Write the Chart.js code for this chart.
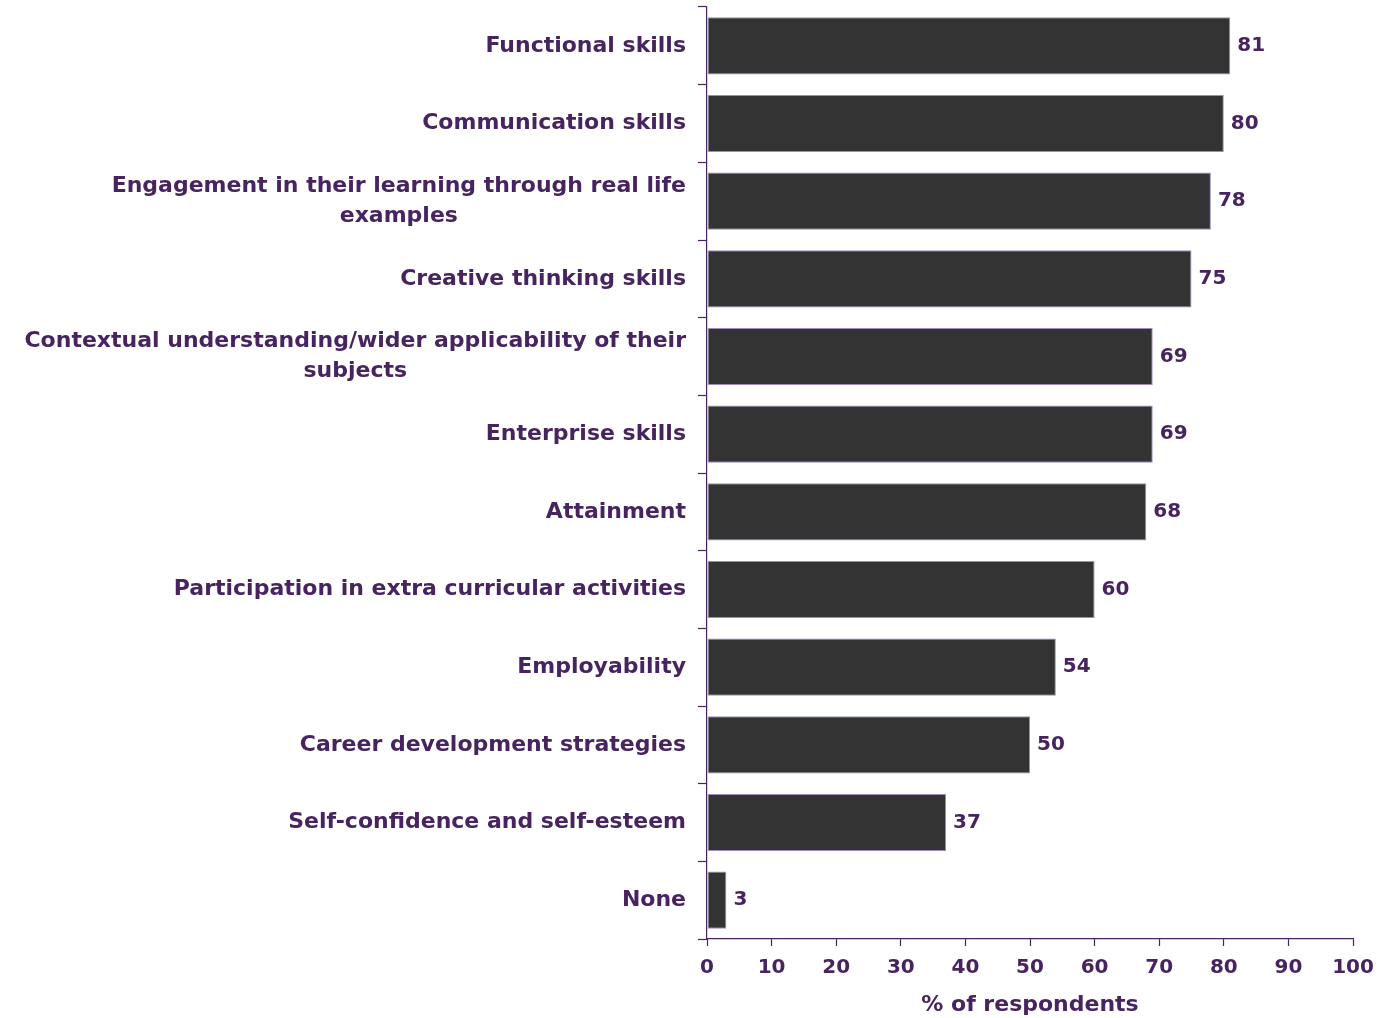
<!DOCTYPE html>
<html lang="en">
<head>
  <meta charset="UTF-8" />
  <title>Impact on learners</title>
  <script src="https://cdn.jsdelivr.net/npm/chart.js"></script>
  <style>
    body { margin: 0; background: #fff; }
    #wrap { width: 1378px; height: 1018px; }
  </style>
</head>
<body>
  <div id="wrap"><canvas id="impactChart" width="1378" height="1018"></canvas></div>
  <script>
    const categories = [
      ['Functional skills'],
      ['Communication skills'],
      ['Engagement in their learning through real life', 'examples'],
      ['Creative thinking skills'],
      ['Contextual understanding/wider applicability of their', 'subjects'],
      ['Enterprise skills'],
      ['Attainment'],
      ['Participation in extra curricular activities'],
      ['Employability'],
      ['Career development strategies'],
      ['Self-confidence and self-esteem'],
      ['None']
    ];
    const percentages = [81, 80, 78, 75, 69, 69, 68, 60, 54, 50, 37, 3];
    const xTicks = [0, 10, 20, 30, 40, 50, 60, 70, 80, 90, 100];

    const purple = '#47245f';
    const family = "'DejaVu Sans', Verdana, sans-serif";
    const tickFont = { family, size: 20, weight: 'bold' };
    const titleFont = { family, size: 22, weight: 'bold' };

    // category labels: single lines right-aligned, wrapped lines centred on the longest line
    const categoryLabels = {
      id: 'categoryLabels',
      afterDraw(chart) {
        const ctx = chart.ctx;
        const y = chart.scales.y;
        const right = y.right - 21;
        const lineH = 30;
        ctx.save();
        ctx.font = `bold 22px ${family}`;
        ctx.fillStyle = purple;
        ctx.textAlign = 'center';
        ctx.textBaseline = 'middle';
        categories.forEach((lines, i) => {
          const cy = y.getPixelForValue(i);
          const widest = Math.max(...lines.map(l => ctx.measureText(l).width));
          const cx = right - widest / 2;
          lines.forEach((l, k) => {
            ctx.fillText(l, cx, cy + (k - (lines.length - 1) / 2) * lineH);
          });
        });
        ctx.restore();
      }
    };

    // value printed just past the end of each bar
    const barValues = {
      id: 'barValues',
      afterDatasetsDraw(chart) {
        const ctx = chart.ctx;
        const meta = chart.getDatasetMeta(0);
        ctx.save();
        ctx.font = `bold 20px ${family}`;
        ctx.fillStyle = purple;
        ctx.textAlign = 'left';
        ctx.textBaseline = 'middle';
        meta.data.forEach((bar, i) => {
          ctx.fillText(String(percentages[i]), bar.x + 7, bar.y);
        });
        ctx.restore();
      }
    };

    new Chart(document.getElementById('impactChart'), {
      type: 'bar',
      data: {
        labels: categories.map(c => c.join(' ')),
        datasets: [{
          data: percentages,
          backgroundColor: '#333333',
          borderColor: '#9d8cbb',
          borderWidth: 1,
          borderSkipped: false,
          categoryPercentage: 1,
          barPercentage: 0.735
        }]
      },
      options: {
        indexAxis: 'y',
        responsive: false,
        animation: false,
        layout: { padding: { top: 7, right: 0, bottom: 0, left: 0 } },
        plugins: {
          legend: { display: false },
          tooltip: { enabled: false }
        },
        scales: {
          y: {
            grid: { offset: true, drawOnChartArea: false, tickLength: 9, color: purple, tickWidth: 1.2 },
            border: { color: purple, width: 1.2 },
            ticks: { display: false },
            afterFit(scale) { scale.width = 707; }
          },
          x: {
            min: 0,
            max: 100,
            afterBuildTicks(scale) { scale.ticks = xTicks.map(v => ({ value: v })); },
            grid: { drawOnChartArea: false, tickLength: 7, color: purple, tickWidth: 1.2 },
            border: { color: purple, width: 1.2 },
            ticks: { color: purple, font: tickFont, padding: 10, maxRotation: 0 },
            title: {
              display: true,
              text: '% of respondents',
              color: purple,
              font: titleFont,
              padding: { top: 3, bottom: 0 }
            },
            afterFit(scale) {
              scale.height = 79;
              scale.paddingRight = 25;
            }
          }
        }
      },
      plugins: [categoryLabels, barValues]
    });
  </script>
</body>
</html>
